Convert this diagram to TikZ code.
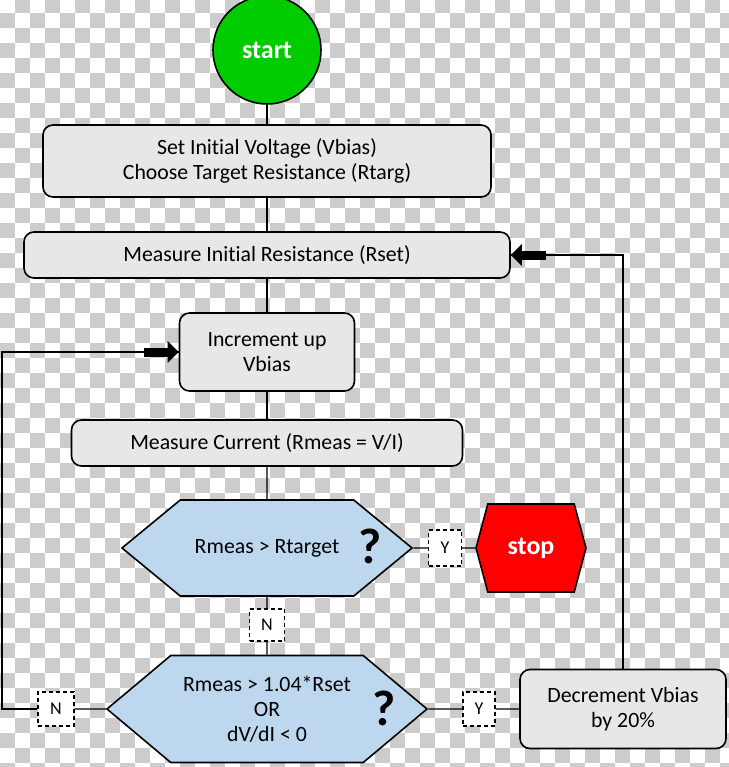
\documentclass[tikz,border=0pt]{standalone}
\usepackage{fontspec}
\setmainfont{Carlito}[Ligatures=NoCommon]
\usetikzlibrary{arrows.meta}
\usetikzlibrary{shapes.symbols}
\usetikzlibrary{calc}
\definecolor{startgreen}{RGB}{0,204,0}
\definecolor{stopred}{RGB}{255,0,0}
\definecolor{boxgray}{RGB}{231,231,231}
\definecolor{askblue}{RGB}{189,215,238}
\definecolor{checkgray}{RGB}{204,204,204}
\newcommand{\checksize}{15}

\begin{document}
\begin{tikzpicture}[x=1pt,y=-1pt]
    \useasboundingbox (0,0) rectangle (728,767);
    % transparency checks behind the chart
    \foreach \i in {0,...,48} {
        \foreach \j in {0,...,51} {
            \pgfmathparse{int(mod(\i+\j,2))}
            \ifnum\pgfmathresult=1
                \fill[checkgray] (\i*\checksize,\j*\checksize-2) rectangle ++(\checksize,\checksize);
            \fi
        }
    }

    \begin{scope}[every node/.style={font=\fontsize{21.8}{25}\selectfont,align=center,inner sep=0pt},
        stepbox/.style={draw,line width=1.6pt,rounded corners=10pt,fill=boxgray},
        askhex/.style={signal,signal to=east and west,draw,line width=1.6pt,fill=askblue},
        flagbox/.style={draw,dash pattern=on 4pt off 3pt,line width=1.3pt,fill=white,font=\fontsize{18}{20}\selectfont},
        qmark/.style={font=\fontsize{50}{50}\selectfont\bfseries}]
        \node[circle,draw,line width=1.6pt,fill=startgreen,minimum size=108pt,text=white,
            font=\fontsize{26}{30}\selectfont\bfseries] (start) at (267,50) {start};
        \node[stepbox,minimum width=448pt,minimum height=72pt] (init) at (267,161) {Set Initial Voltage (Vbias)\\Choose Target Resistance (Rtarg)};
        \node[stepbox,minimum width=486pt,minimum height=46pt] (rset) at (267,255) {Measure Initial Resistance (Rset)};
        \node[stepbox,minimum width=175pt,minimum height=78pt] (incr) at (267,352) {Increment up\\Vbias};
        \node[stepbox,minimum width=391pt,minimum height=46pt] (meas) at (267,443) {Measure Current (Rmeas = V/I)};

        \node[askhex,signal pointer angle=79,minimum width=290pt,minimum height=96pt] (ask1) at (267,548) {Rmeas > Rtarget};
        \node[qmark] (mark1) at (370,546) {?};
        \node[flagbox,minimum width=33pt,minimum height=36pt] (yes1) at (445,548) {Y};
        \node[signal,signal to=east and west,signal pointer angle=150,draw,line width=1.6pt,fill=stopred,
            minimum width=110pt,minimum height=88pt,text=white,font=\fontsize{26}{30}\selectfont\bfseries] (stop) at (531,548) {stop};

        \node[flagbox,minimum width=35pt,minimum height=32pt] (no1) at (267,625) {N};
        \node[askhex,signal pointer angle=80,minimum width=320pt,minimum height=107pt] (ask2) at (267,709) {Rmeas > 1.04*Rset\\OR\\dV/dI < 0};
        \node[qmark] (mark2) at (384,708) {?};
        \node[flagbox,minimum width=32pt,minimum height=34pt] (yes2) at (479,709) {Y};
        \node[flagbox,minimum width=36pt,minimum height=34pt] (no2) at (56,709) {N};
        \node[stepbox,minimum width=206pt,minimum height=79pt] (dec) at (623,709) {Decrement Vbias\\by 20\%};
    \end{scope}

    \coordinate (leftrail) at (2,0);

    \begin{scope}[>={Triangle[width=21pt,length=11pt]},
        conn/.style={draw=black,line width=1.3pt},
        bigarrow/.style={line width=9pt,->}]
        \draw[conn] (start) -- (init);
        \draw[conn] (init) -- (rset);
        \draw[conn] (rset) -- (incr);
        \draw[conn] (incr) -- (meas);
        \draw[conn] (meas) -- (ask1);
        \draw[conn] (ask1) -- (yes1) -- (stop);
        \draw[conn] (ask1) -- (no1) -- (ask2);
        \draw[conn] (ask2) -- (yes2) -- (dec);
        \draw[conn] (ask2) -- (no2);
        \draw[conn] (no2.west) -- (no2.west -| leftrail) -- (leftrail |- incr.west) -- (incr.west);
        \draw[conn] (dec.north) -- (dec.north |- rset.east) -- (rset.east);
        \draw[bigarrow] ($(incr.west)+(-35,0)$) -- (incr.west);
        \draw[bigarrow] ($(rset.east)+(35,0)$) -- (rset.east);
    \end{scope}
\end{tikzpicture}
\end{document}
